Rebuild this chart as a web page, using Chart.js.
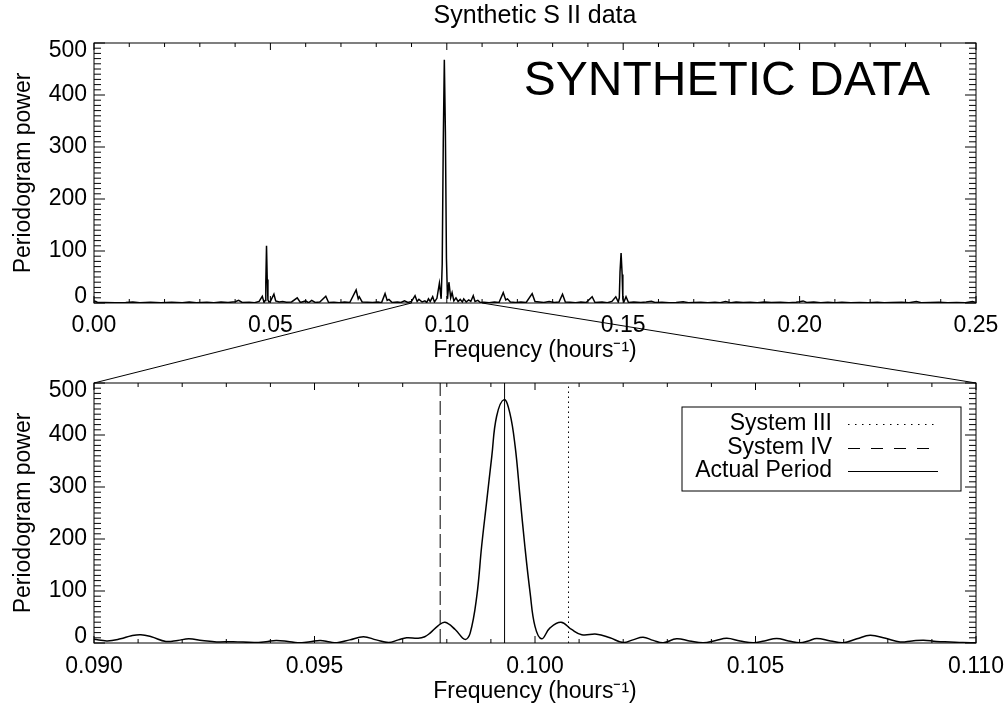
<!DOCTYPE html>
<html>
<head>
<meta charset="utf-8">
<title>Synthetic S II data</title>
<script src="https://cdn.jsdelivr.net/npm/chart.js@4.4.1/dist/chart.umd.min.js"></script>
<style>
  html, body { margin: 0; padding: 0; background: #fff; }
  #wrap { position: relative; width: 1008px; height: 708px; }
  #wrap canvas { position: absolute; left: 0; }
  #overview { top: 0; }
  #zoom { top: 360px; }
  #zoomLines { top: 0; pointer-events: none; }
</style>
</head>
<body>
<div id="wrap">
  <canvas id="overview" width="1008" height="370"></canvas>
  <canvas id="zoom" width="1008" height="348"></canvas>
  <canvas id="zoomLines" width="1008" height="708"></canvas>
</div>
<script>
// full periodogram, 0 - 0.25 per hour
const overviewFreq = [
  0.0000, 0.0005, 0.0010, 0.0030, 0.0060, 0.0090, 0.0110, 0.0130, 0.0160, 0.0190,
  0.0220, 0.0250, 0.0270, 0.0290, 0.0320, 0.0340, 0.0360, 0.0380, 0.0400, 0.0410,
  0.0420, 0.0440, 0.0455, 0.0468, 0.0477, 0.0482, 0.0485, 0.0487, 0.0489, 0.0491,
  0.0493, 0.0496, 0.0500, 0.0510, 0.0515, 0.0525, 0.0535, 0.0545, 0.0560, 0.0576,
  0.0585, 0.0600, 0.0608, 0.0617, 0.0627, 0.0640, 0.0657, 0.0665, 0.0680, 0.0695,
  0.0710, 0.0725, 0.0743, 0.0749, 0.0752, 0.0760, 0.0775, 0.0790, 0.0805, 0.0815,
  0.0825, 0.0831, 0.0836, 0.0845, 0.0860, 0.0870, 0.0880, 0.0890, 0.0900, 0.0910,
  0.0916, 0.0921, 0.0930, 0.0938, 0.0943, 0.0948, 0.0953, 0.0960, 0.0965, 0.0972,
  0.0979, 0.0984, 0.0987, 0.0990, 0.0993, 0.0996, 0.0999, 0.1002, 0.1006, 0.1011,
  0.1015, 0.1020, 0.1026, 0.1032, 0.1038, 0.1044, 0.1048, 0.1055, 0.1062, 0.1068,
  0.1075, 0.1080, 0.1088, 0.1095, 0.1105, 0.1120, 0.1135, 0.1148, 0.1160, 0.1167,
  0.1172, 0.1180, 0.1195, 0.1210, 0.1225, 0.1242, 0.1250, 0.1262, 0.1275, 0.1290,
  0.1305, 0.1318, 0.1328, 0.1336, 0.1350, 0.1365, 0.1380, 0.1395, 0.1412, 0.1420,
  0.1440, 0.1455, 0.1468, 0.1479, 0.1486, 0.1489, 0.1491, 0.1494, 0.1497, 0.1499,
  0.1502, 0.1508, 0.1515, 0.1530, 0.1550, 0.1565, 0.1580, 0.1590, 0.1610, 0.1630,
  0.1650, 0.1670, 0.1685, 0.1700, 0.1720, 0.1740, 0.1760, 0.1775, 0.1790, 0.1805,
  0.1820, 0.1840, 0.1860, 0.1880, 0.1900, 0.1920, 0.1945, 0.1970, 0.1990, 0.2000,
  0.2010, 0.2020, 0.2040, 0.2060, 0.2080, 0.2100, 0.2120, 0.2145, 0.2170, 0.2195,
  0.2220, 0.2240, 0.2260, 0.2290, 0.2310, 0.2331, 0.2345, 0.2370, 0.2395, 0.2420,
  0.2445, 0.2470, 0.2490, 0.2500
];
const overviewPower = [
  4, 3, 1, 1, 0.5, 1, 2, 0.5, 1.5, 0.5,
  1.5, 0.5, 2, 0.5, 1.5, 0.5, 2, 1, 2.5, 5,
  1, 1.5, 0.5, 3, 13, 1, 5, 40, 110, 45,
  6, 2, 3, 17, 4, 2, 3, 1.5, 2, 10,
  1, 4, 0.5, 5, 1, 2, 13, 1, 1.5, 0.5,
  2, 1, 25, 8, 12, 2, 1.5, 1, 2, 0.5,
  18, 5, 7, 1, 2, 1, 4, 1, 3, 14,
  3, 7, 2, 4, 1, 8, 3, 12, 2, 9,
  38, 8, 75, 310, 468, 330, 85, 8, 40, 10,
  20, 4, 10, 3, 7, 2, 8, 2, 6, 3,
  14, 3, 5, 1, 1.5, 0.5, 2, 1, 20, 6,
  8, 2, 1, 2, 1, 18, 3, 2, 1, 3,
  1, 2, 17, 2, 1.5, 0.5, 2, 1, 12, 1,
  2, 0.5, 3, 12, 2, 10, 60, 96, 55, 8,
  2, 12, 1, 2, 1, 2, 3.5, 1, 1.5, 0.5,
  1, 2.5, 0.5, 1, 1.5, 0.5, 1.5, 0.5, 3, 0.5,
  2, 1, 1.5, 0.5, 2, 1, 1.5, 0.5, 1.5, 2.5,
  4, 1, 2, 0.5, 1.5, 0.5, 1.5, 0.5, 1, 0.5,
  1.5, 0.5, 1, 1.5, 0.5, 3, 0.5, 1, 1.5, 0.5,
  1, 0.5, 3, 1
];

// close-up of the window 0.09 - 0.11 per hour
const zoomFreq = [
  0.09000, 0.09030, 0.09060, 0.09085, 0.09106, 0.09130, 0.09163, 0.09190, 0.09215, 0.09245,
  0.09278, 0.09316, 0.09363, 0.09390, 0.09413, 0.09440, 0.09462, 0.09490, 0.09513, 0.09535,
  0.09551, 0.09580, 0.09611, 0.09640, 0.09668, 0.09690, 0.09709, 0.09735, 0.09750, 0.09762,
  0.09780, 0.09796, 0.09819, 0.09841, 0.09853, 0.09868, 0.09879, 0.09890, 0.09902, 0.09913,
  0.09930, 0.09943, 0.09955, 0.09966, 0.09977, 0.09989, 0.10000, 0.10015, 0.10034, 0.10059,
  0.10083, 0.10106, 0.10140, 0.10170, 0.10200, 0.10222, 0.10245, 0.10268, 0.10291, 0.10321,
  0.10350, 0.10382, 0.10410, 0.10435, 0.10465, 0.10495, 0.10520, 0.10548, 0.10575, 0.10601,
  0.10620, 0.10639, 0.10670, 0.10699, 0.10730, 0.10760, 0.10795, 0.10828, 0.10855, 0.10881,
  0.10910, 0.10941, 0.10970, 0.11000
];
const zoomPower = [
  7, 4, 8, 14, 16, 12, 3, 5, 8, 5,
  2, 2.5, 1, 2.5, 5, 3, 0.5, 2.5, 5, 2,
  0.5, 6, 12, 6, 1, 6, 10, 9, 12, 19,
  33, 40, 26, 7, 19, 90, 186, 269, 359, 436,
  468, 442, 378, 282, 186, 96, 32, 8, 29, 40,
  26, 16, 17, 10, 1, 6, 11, 5, 0.5, 8,
  4, 0.5, 5, 9, 4, 0.5, 4, 8.5, 4, 0.5,
  4, 8.5, 4, 0.5, 8, 15, 9, 2, 4, 5.5,
  3, 2, 1, 0.5
];

// reference rotation frequencies (per hour)
const systemIIIFreq = 0.10076;
const systemIVFreq = 0.09785;
const actualFreq = 0.09931;

const powerMin = 0, powerMax = 500, powerStep = 100;
const zoomMin = 0.09, zoomMax = 0.11;

const FONT = "'Liberation Sans', Arial, Helvetica, sans-serif";
Chart.defaults.font.family = FONT;
Chart.defaults.font.size = 23;
Chart.defaults.color = '#000';

function toPoints(xs, ys) {
  return xs.map((x, i) => ({ x: x, y: ys[i] }));
}

// keep the plot box where we want it: no extra room for edge labels
function fixHeight(h) {
  return s => { s.height = h; s.paddingLeft = 0; s.paddingRight = 0; };
}

// IDL style box: inward ticks on every side, minor ticks, y labels kept inside the range
const idlFrame = {
  id: 'idlFrame',
  afterDraw(chart, args, opts) {
    const { ctx, chartArea: a, scales: { x, y } } = chart;
    ctx.save();
    ctx.strokeStyle = '#000';
    ctx.lineWidth = 1;
    ctx.strokeRect(a.left, a.top, a.width, a.height);

    ctx.beginPath();
    const nx = Math.round((x.max - x.min) / opts.xMinor);
    for (let i = 0; i <= nx; i++) {
      const px = x.getPixelForValue(x.min + i * opts.xMinor);
      const len = i % opts.xPerMajor === 0 ? 7 : 4;
      ctx.moveTo(px, a.bottom); ctx.lineTo(px, a.bottom - len);
      ctx.moveTo(px, a.top); ctx.lineTo(px, a.top + len);
    }
    const ny = Math.round((y.max - y.min) / opts.yMinor);
    for (let i = 0; i <= ny; i++) {
      const py = y.getPixelForValue(y.min + i * opts.yMinor);
      const len = i % opts.yPerMajor === 0 ? 11 : 7;
      ctx.moveTo(a.left, py); ctx.lineTo(a.left + len, py);
      ctx.moveTo(a.right, py); ctx.lineTo(a.right - len, py);
    }
    ctx.stroke();

    ctx.fillStyle = '#000';
    ctx.font = '23px ' + FONT;
    ctx.textAlign = 'right';
    ctx.textBaseline = 'middle';
    for (let v = y.min; v <= y.max; v += powerStep) {
      let py = y.getPixelForValue(v);
      if (v === y.max) py += 8;
      if (v === y.min) py -= 6;
      ctx.fillText(String(v), a.left - 7, py);
    }
    ctx.restore();
  }
};

const bannerText = {
  id: 'bannerText',
  afterDraw(chart) {
    const { ctx, chartArea: a } = chart;
    ctx.save();
    ctx.fillStyle = '#000';
    ctx.font = '48px ' + FONT;
    ctx.textAlign = 'right';
    ctx.textBaseline = 'alphabetic';
    ctx.fillText('SYNTHETIC DATA', a.right - 46, a.top + 52);
    ctx.restore();
  }
};

// boxed legend, labels right-aligned with the line sample after them
const boxLegend = {
  id: 'boxLegend',
  afterDraw(chart) {
    const { ctx, chartArea: a } = chart;
    const items = chart.data.datasets.filter(d => d.legendDash);
    ctx.save();
    ctx.strokeStyle = '#000';
    ctx.lineWidth = 1;
    ctx.strokeRect(a.right - 294, a.top + 24, 279, 84);
    ctx.fillStyle = '#000';
    ctx.font = '23px ' + FONT;
    ctx.textAlign = 'right';
    ctx.textBaseline = 'middle';
    const rows = [41, 65, 88];
    items.forEach((d, i) => {
      const ry = a.top + rows[i];
      ctx.fillText(d.label, a.right - 144, ry);
      ctx.setLineDash(d.legendDash);
      ctx.beginPath();
      ctx.moveTo(a.right - 128, ry + 0.5);
      ctx.lineTo(a.right - 38, ry + 0.5);
      ctx.stroke();
    });
    ctx.restore();
  }
};

const lineStyle = { borderColor: '#000', borderWidth: 1, pointRadius: 0, showLine: true };
const curveStyle = Object.assign({}, lineStyle, { borderWidth: 1.5 });

const overview = new Chart(document.getElementById('overview'), {
  type: 'scatter',
  data: {
    datasets: [Object.assign({ data: toPoints(overviewFreq, overviewPower), tension: 0 }, curveStyle)]
  },
  options: {
    responsive: false,
    animation: false,
    layout: { padding: { top: 0, right: 32, bottom: 0, left: 0 } },
    plugins: {
      legend: { display: false },
      tooltip: { enabled: false },
      title: {
        display: true, text: 'Synthetic S II data', fullSize: false,
        font: { size: 25, weight: 'normal' }, padding: { top: 1, bottom: 12 }
      },
      idlFrame: { xMinor: 0.01, xPerMajor: 5, yMinor: 10, yPerMajor: 10 }
    },
    scales: {
      x: {
        type: 'linear', min: 0, max: 0.25,
        grid: { display: false, drawTicks: false }, border: { display: false },
        ticks: { stepSize: 0.05, padding: 9, maxRotation: 0, autoSkip: false, callback: v => v.toFixed(2) },
        title: { display: true, text: 'Frequency (hours⁻¹)', padding: { top: 0, bottom: 6 } },
        afterFit: fixHeight(67)
      },
      y: {
        min: powerMin, max: powerMax,
        grid: { display: false, drawTicks: false }, border: { display: false },
        ticks: { display: false, stepSize: powerStep },
        title: { display: true, text: 'Periodogram power', padding: { top: 10, bottom: 0 } },
        afterFit: s => { s.width = 94; }
      }
    }
  },
  plugins: [idlFrame, bannerText]
});

const zoom = new Chart(document.getElementById('zoom'), {
  type: 'scatter',
  data: {
    datasets: [
      Object.assign({ data: toPoints(zoomFreq, zoomPower), tension: 0.4 }, curveStyle),
      Object.assign({ label: 'System III', data: [{ x: systemIIIFreq, y: powerMin }, { x: systemIIIFreq, y: powerMax }],
        borderDash: [1.5, 3.5], legendDash: [1.5, 5.5] }, lineStyle),
      Object.assign({ label: 'System IV', data: [{ x: systemIVFreq, y: powerMin }, { x: systemIVFreq, y: powerMax }],
        borderDash: [14, 5], legendDash: [12, 11] }, lineStyle),
      Object.assign({ label: 'Actual Period', data: [{ x: actualFreq, y: powerMin }, { x: actualFreq, y: powerMax }],
        legendDash: [] }, lineStyle)
    ]
  },
  options: {
    responsive: false,
    animation: false,
    layout: { padding: { top: 23, right: 32, bottom: 0, left: 0 } },
    plugins: {
      legend: { display: false },
      tooltip: { enabled: false },
      idlFrame: { xMinor: 0.001, xPerMajor: 5, yMinor: 10, yPerMajor: 10 }
    },
    scales: {
      x: {
        type: 'linear', min: zoomMin, max: zoomMax,
        grid: { display: false, drawTicks: false }, border: { display: false },
        ticks: { stepSize: 0.005, padding: 10, maxRotation: 0, autoSkip: false, callback: v => v.toFixed(3) },
        title: { display: true, text: 'Frequency (hours⁻¹)', padding: { top: 0, bottom: 3 } },
        afterFit: fixHeight(65)
      },
      y: {
        min: powerMin, max: powerMax,
        grid: { display: false, drawTicks: false }, border: { display: false },
        ticks: { display: false, stepSize: powerStep },
        title: { display: true, text: 'Periodogram power', padding: { top: 10, bottom: 0 } },
        afterFit: s => { s.width = 94; }
      }
    }
  },
  plugins: [idlFrame, boxLegend]
});

// lines joining the zoom window on the upper axis to the corners of the lower plot
(function drawZoomLines() {
  const ctx = document.getElementById('zoomLines').getContext('2d');
  const xs = overview.scales.x;
  const top = overview.chartArea;
  const low = zoom.chartArea;
  const offset = zoom.canvas.offsetTop;
  ctx.strokeStyle = '#000';
  ctx.lineWidth = 1;
  ctx.beginPath();
  ctx.moveTo(xs.getPixelForValue(zoomMin), top.bottom);
  ctx.lineTo(low.left, low.top + offset);
  ctx.moveTo(xs.getPixelForValue(zoomMax), top.bottom);
  ctx.lineTo(low.right, low.top + offset);
  ctx.stroke();
})();
</script>
</body>
</html>
